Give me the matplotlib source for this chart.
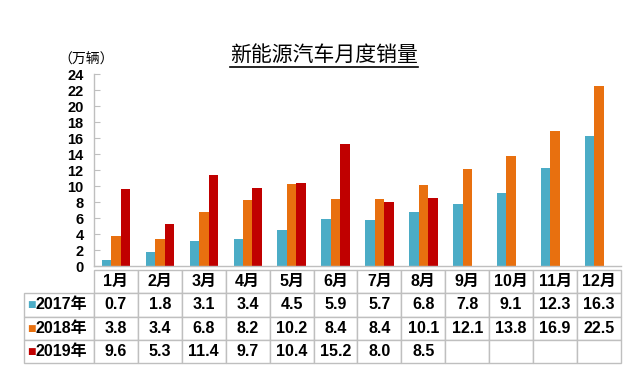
import numpy as np
import matplotlib.pyplot as plt
from matplotlib.lines import Line2D

plt.rcParams['font.family'] = ['Liberation Sans', 'Noto Sans CJK SC', 'DejaVu Sans']

# ---- data ----
months = ['1月', '2月', '3月', '4月', '5月', '6月', '7月', '8月', '9月', '10月', '11月', '12月']
years = ['2017年', '2018年', '2019年']
sales_2017 = [0.7, 1.8, 3.1, 3.4, 4.5, 5.9, 5.7, 6.8, 7.8, 9.1, 12.3, 16.3]
sales_2018 = [3.8, 3.4, 6.8, 8.2, 10.2, 8.4, 8.4, 10.1, 12.1, 13.8, 16.9, 22.5]
sales_2019 = [9.6, 5.3, 11.4, 9.7, 10.4, 15.2, 8.0, 8.5]
yticks = list(range(0, 25, 2))

colors = ['#4BACC6', '#E8700F', '#C00000']
series = [sales_2017, sales_2018, sales_2019]
grid_gray = '#BFBFBF'

W, H = 640, 375
fig = plt.figure(figsize=(W / 100, H / 100), dpi=100)

# ---- bar chart ----
ax = fig.add_axes([94 / W, 1 - 266 / H, (621 - 94) / W, (266 - 74) / H])
bw = 0.215
x = np.arange(len(months))
for k, (vals, c) in enumerate(zip(series, colors)):
    ax.bar(x[:len(vals)] + (k - 1) * bw, vals, width=bw, color=c, zorder=2)

ax.set_xlim(-0.5, len(months) - 0.5)
ax.set_ylim(0, 24)
ax.set_yticks(yticks)
ax.set_yticklabels([str(t) for t in yticks], fontsize=10.5, fontweight='bold')
ax.set_xticks([])
ax.tick_params(axis='y', direction='in', length=4, color=grid_gray, pad=7.5)
for s in ['top', 'right']:
    ax.spines[s].set_visible(False)
for s in ['left', 'bottom']:
    ax.spines[s].set_color(grid_gray)
    ax.spines[s].set_linewidth(1)

fig.text(58 / W, 1 - 60 / H, '（万辆）', fontsize=10, va='center', ha='left',
         family=['Noto Sans CJK SC'])

# ---- title with underline ----
title = fig.text(324 / W, 1 - 55 / H, '新能源汽车月度销量', fontsize=15, ha='center',
                 va='center', family=['Noto Sans CJK SC'], fontweight='medium')

# ---- data table ----
tax = fig.add_axes([24 / W, 1 - 363 / H, (621 - 24) / W, (363 - 270) / H])
tax.axis('off')
rows = [[''] + months]
for vals in series:
    cells = [f'{v:.1f}' for v in vals] + [''] * (len(months) - len(vals))
    rows.append([''] + cells)
col_w = [70] + [44] * len(months)
col_w = [w / sum(col_w) for w in col_w]
tbl = tax.table(cellText=rows, colWidths=col_w, cellLoc='center', bbox=[0, 0, 1, 1])
tbl.auto_set_font_size(False)
for (r, c), cell in tbl.get_celld().items():
    cell.set_edgecolor(grid_gray)
    cell.set_linewidth(1)
    cell.get_text().set_fontsize(11.5)
    cell.get_text().set_fontweight('bold')
    cell.get_text().set_fontfamily(['Liberation Sans', 'Noto Sans CJK SC'])
tbl[0, 0].visible_edges = ''

for k, (yr, c) in enumerate(zip(years, colors)):
    yc = 1 - (k + 1.5) / 4
    tax.text((27 - 24) / 597, yc, '■', color=c, fontsize=6.5, va='center', ha='left',
             transform=tax.transAxes, family=['DejaVu Sans'])
    tax.text((36 - 24) / 597, yc, yr, fontsize=11.5, fontweight='bold', va='center',
             ha='left', transform=tax.transAxes,
             family=['Liberation Sans', 'Noto Sans CJK SC'])

fig.canvas.draw()
bb = title.get_window_extent()
fig.add_artist(Line2D([bb.x0, bb.x1], [bb.y0 - 1, bb.y0 - 1], color='black',
                      linewidth=1.2, transform=None))

fig.savefig('out.png', dpi=100)
